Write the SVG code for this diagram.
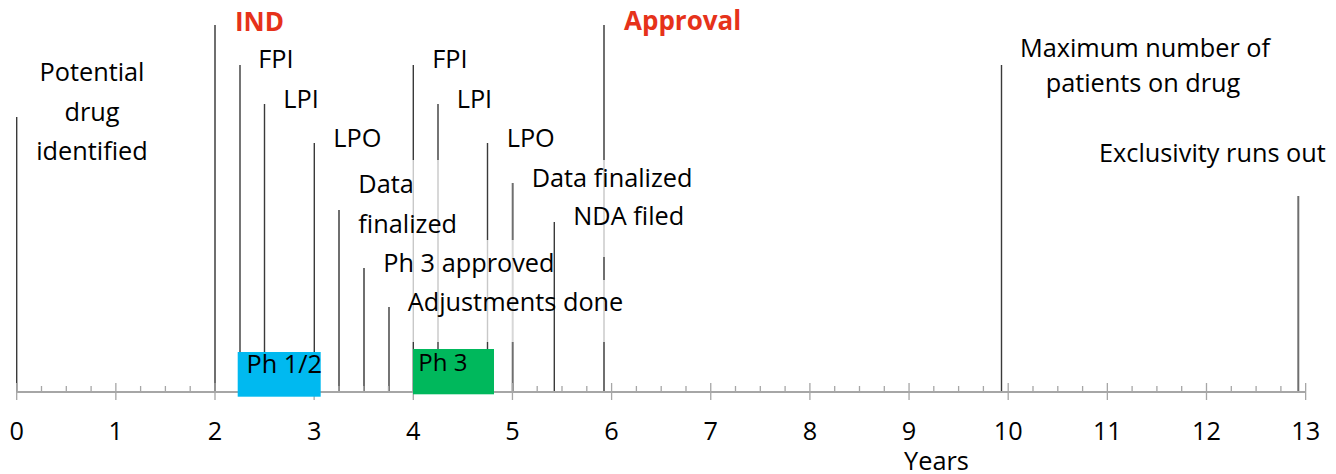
<svg xmlns="http://www.w3.org/2000/svg" width="1336" height="474" viewBox="0 0 1336 474">
<style>
text{font-family:"Open Sans","Liberation Sans",sans-serif;font-size:25.3px;fill:#000}
.red{fill:#e6321a;font-weight:bold;font-size:26px}
.mid{text-anchor:middle}
.ln{stroke:#3a3a3a;stroke-width:1.4}
.lg{stroke:#6f6f6f;stroke-width:2}
.ax{stroke:#a6a6a6;stroke-width:2}
.tk{stroke:#a6a6a6;stroke-width:1.3}
.veil{fill:#fff;fill-opacity:0.72}
</style>
<rect width="1336" height="474" fill="#fff"/>
<g id="connectors">
<line class="ln" x1="16.7" y1="117" x2="16.7" y2="392"/>
<line class="lg" x1="215" y1="25" x2="215" y2="392"/>
<line class="ln" x1="240" y1="65" x2="240" y2="392"/>
<line class="ln" x1="264.5" y1="104" x2="264.5" y2="392"/>
<line class="ln" x1="314.3" y1="143" x2="314.3" y2="392"/>
<line class="lg" x1="339" y1="210" x2="339" y2="392"/>
<line class="lg" x1="364" y1="268" x2="364" y2="392"/>
<line class="ln" x1="389" y1="307" x2="389" y2="392"/>
<line class="ln" x1="413.3" y1="65" x2="413.3" y2="392"/>
<line class="ln" x1="438" y1="104" x2="438" y2="392"/>
<line class="ln" x1="487.5" y1="143" x2="487.5" y2="392"/>
<line class="lg" x1="512.7" y1="183" x2="512.7" y2="392"/>
<line class="lg" x1="604" y1="25" x2="604" y2="392"/>
<line class="ln" x1="1001.5" y1="65" x2="1001.5" y2="392"/>
<line class="lg" x1="1298.3" y1="196" x2="1298.3" y2="392"/>
</g>
<g id="veils">
<rect class="veil" x="355" y="160" width="107" height="80"/>
<rect class="veil" x="380" y="240" width="173" height="40"/>
<rect class="veil" x="404" y="280" width="223" height="62"/>
<rect class="veil" x="528" y="160" width="167" height="38"/>
<rect class="veil" x="570" y="198" width="118" height="59"/>
</g>
<line class="ln" x1="554.3" y1="222" x2="554.3" y2="392"/>
<g id="axis">
<line class="ax" x1="16.7" y1="392" x2="1305.7" y2="392"/>
<path class="tk" d="M16.7 383V400M115.85 383V400M215 383V400M314.15 383V400M413.3 383V400M512.45 383V400M611.6 383V400M710.75 383V400M809.9 383V400M909.05 383V400M1008.2 383V400M1107.35 383V400M1206.5 383V400M1305.65 383V400"/>
<path class="tk" d="M41.5 386V392M66.3 386V392M91.1 386V392M140.6 386V392M165.4 386V392M190.2 386V392M239.8 386V392M264.6 386V392M289.4 386V392M338.9 386V392M363.7 386V392M388.5 386V392M438.1 386V392M462.9 386V392M487.7 386V392M537.2 386V392M562 386V392M586.8 386V392M636.4 386V392M661.2 386V392M686 386V392M735.5 386V392M760.3 386V392M785.1 386V392M834.7 386V392M859.5 386V392M884.3 386V392M933.8 386V392M958.6 386V392M983.4 386V392M1033 386V392M1057.8 386V392M1082.6 386V392M1132.1 386V392M1156.9 386V392M1181.7 386V392M1231.3 386V392M1256.1 386V392M1280.9 386V392"/>
<text class="mid" x="16.7" y="440">0</text>
<text class="mid" x="115.85" y="440">1</text>
<text class="mid" x="215" y="440">2</text>
<text class="mid" x="314.15" y="440">3</text>
<text class="mid" x="413.3" y="440">4</text>
<text class="mid" x="512.45" y="440">5</text>
<text class="mid" x="611.6" y="440">6</text>
<text class="mid" x="710.75" y="440">7</text>
<text class="mid" x="809.9" y="440">8</text>
<text class="mid" x="909.05" y="440">9</text>
<text class="mid" x="1008.2" y="440">10</text>
<text class="mid" x="1107.35" y="440">11</text>
<text class="mid" x="1206.5" y="440">12</text>
<text class="mid" x="1305.65" y="440">13</text>
<text class="mid" x="936.5" y="469.5">Years</text>
</g>
<g id="ph12">
<rect x="237.7" y="352" width="83" height="44.7" fill="#00b9f0"/>
<text x="246.5" y="372.5">Ph 1/2</text>
</g>
<g id="ph3">
<rect x="413" y="349" width="81" height="45.3" fill="#00b85c"/>
<text x="418.3" y="370.5" style="font-size:24px">Ph 3</text>
</g>
<g id="potential"><text class="mid" x="92" y="81">Potential</text><text class="mid" x="92" y="121">drug</text><text class="mid" x="92" y="160">identified</text></g>
<g id="ind"><text class="red" x="235" y="31">IND</text></g>
<g id="fpi1"><text x="258.3" y="68">FPI</text></g>
<g id="lpi1"><text x="283.3" y="108">LPI</text></g>
<g id="lpo1"><text x="333.3" y="147">LPO</text></g>
<g id="datafin1"><text x="358.3" y="193">Data</text><text x="358.3" y="232.5">finalized</text></g>
<g id="ph3approved"><text x="383.3" y="271.5">Ph 3 approved</text></g>
<g id="adjustments"><text x="407.7" y="310.5">Adjustments done</text></g>
<g id="fpi2"><text x="432.3" y="68">FPI</text></g>
<g id="lpi2"><text x="456.7" y="108">LPI</text></g>
<g id="lpo2"><text x="506.7" y="147">LPO</text></g>
<g id="datafin2"><text x="531.7" y="186.7">Data finalized</text></g>
<g id="nda"><text x="573.3" y="225">NDA filed</text></g>
<g id="approval"><text class="red" x="624" y="30">Approval</text></g>
<g id="maxpatients"><text class="mid" x="1145" y="57">Maximum number of</text><text class="mid" x="1143" y="92">patients on drug</text></g>
<g id="exclusivity"><text x="1099" y="161.5">Exclusivity runs out</text></g>
</svg>
